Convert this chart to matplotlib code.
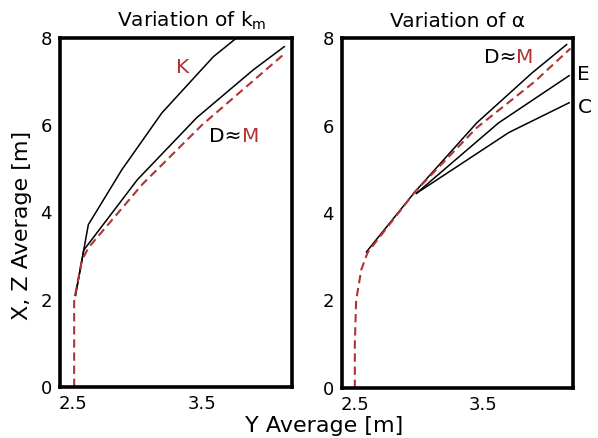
import matplotlib
matplotlib.use("Agg")
import matplotlib.pyplot as plt

red = '#b03434'

# left panel: variation of k_m
km_M_y_avg = [2.51, 2.51, 2.57, 2.62, 3.04, 3.50, 4.15]
km_M_xz_avg = [0.0, 2.0, 2.9, 3.19, 4.65, 6.0, 7.66]
km_D_y_avg = [2.52, 2.585, 3.0, 3.46, 3.90, 4.14]
km_D_xz_avg = [2.1, 3.14, 4.75, 6.17, 7.27, 7.8]
km_K_y_avg = [2.52, 2.62, 2.88, 3.19, 3.59, 3.85]
km_K_xz_avg = [2.1, 3.72, 4.98, 6.28, 7.57, 8.19]

# right panel: variation of alpha
al_M_y_avg = [2.50, 2.50, 2.51, 2.55, 2.60, 2.97, 3.45, 3.90, 4.18]
al_M_xz_avg = [0.0, 1.0, 2.0, 2.7, 3.1, 4.49, 5.95, 7.0, 7.76]
al_D_y_avg = [2.59, 2.97, 3.45, 3.88, 4.15]
al_D_xz_avg = [3.11, 4.49, 6.06, 7.2, 7.85]
al_E_y_avg = [2.98, 3.62, 4.17]
al_E_xz_avg = [4.45, 6.06, 7.14]
al_C_y_avg = [2.98, 3.70, 4.17]
al_C_xz_avg = [4.45, 5.84, 6.52]

xticks = [2.5, 3.5]
yticks = [0, 2, 4, 6, 8]

fig = plt.figure(figsize=(5.98, 4.38), dpi=100)
ax1 = fig.add_axes([0.1003, 0.1164, 0.388, 0.797])
ax2 = fig.add_axes([0.5719, 0.1142, 0.3863, 0.799])

for ax in (ax1, ax2):
    ax.set_xlim(2.4, 4.2)
    ax.set_ylim(0, 8)
    ax.set_xticks(xticks)
    ax.set_xticklabels(['2.5', '3.5'])
    ax.set_yticks(yticks)
    ax.tick_params(length=0, pad=6, labelsize=13)
    for s in ax.spines.values():
        s.set_linewidth(2.6)

# k_m
ax1.plot(km_K_y_avg, km_K_xz_avg, color='black', lw=1.1)
ax1.plot(km_D_y_avg, km_D_xz_avg, color='black', lw=1.1)
ax1.plot(km_M_y_avg, km_M_xz_avg, color=red, lw=1.5, dashes=(4, 2.3))
ax1.text(3.35, 7.32, 'K', color=red, fontsize=14.5, ha='center', va='center')
ax1.text(3.81, 5.73, 'D≈', color='black', fontsize=14.5, ha='right', va='center')
ax1.text(3.81, 5.73, 'M', color=red, fontsize=14.5, ha='left', va='center')
ax1.set_title(r'Variation of $\mathrm{k_m}$', fontsize=14.5, pad=8, x=0.57)
ax1.set_ylabel('X, Z Average [m]', fontsize=16, va='center')
ax1.yaxis.set_label_coords(-0.164, 0.464)

# alpha
ax2.plot(al_C_y_avg, al_C_xz_avg, color='black', lw=1.1)
ax2.plot(al_E_y_avg, al_E_xz_avg, color='black', lw=1.1)
ax2.plot(al_D_y_avg, al_D_xz_avg, color='black', lw=1.1)
ax2.plot(al_M_y_avg, al_M_xz_avg, color=red, lw=1.5, dashes=(4, 2.3))
ax2.text(3.756, 7.55, 'D≈', color='black', fontsize=14.5, ha='right', va='center')
ax2.text(3.756, 7.55, 'M', color=red, fontsize=14.5, ha='left', va='center')
ax2.text(4.28, 7.16, 'E', color='black', fontsize=14.5, ha='center', va='center', clip_on=False)
ax2.text(4.29, 6.41, 'C', color='black', fontsize=14.5, ha='center', va='center', clip_on=False)
ax2.set_title('Variation of α', fontsize=14.5, pad=8)

fig.text(324 / 598, 1 - 426 / 438, 'Y Average [m]', fontsize=16, ha='center', va='center')

fig.savefig('out.png', dpi=100)
